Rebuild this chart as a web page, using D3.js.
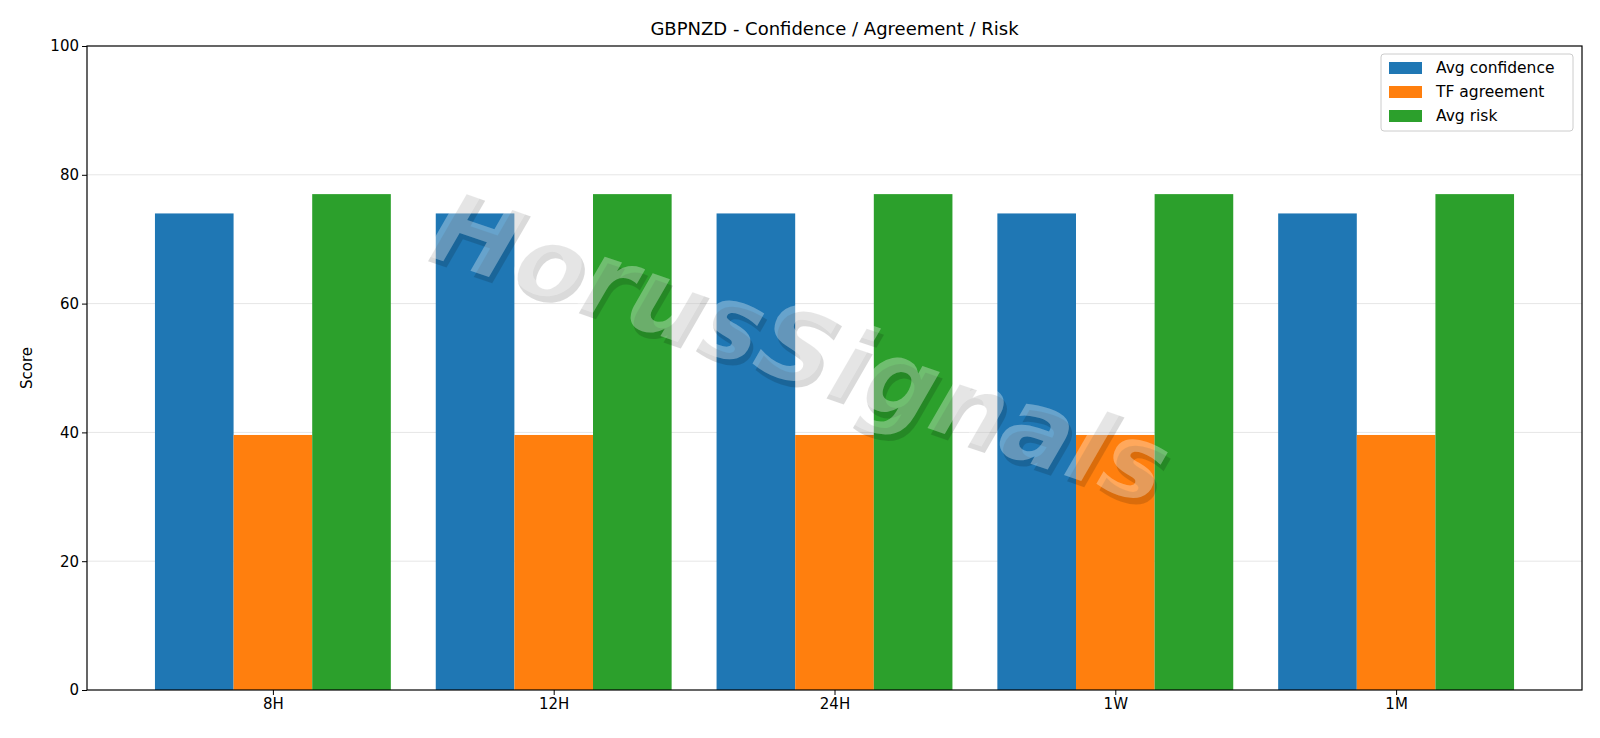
<!DOCTYPE html>
<html><head><meta charset="utf-8">
<script src="https://cdn.jsdelivr.net/npm/d3@7"></script>
<style>body{margin:0;background:#fff;font-family:"DejaVu Sans",sans-serif}</style>
</head><body><svg id="c" width="1600" height="738"></svg>
<script>
const categories=["8H","12H","24H","1W","1M"];
const seriesNames=["Avg confidence","TF agreement","Avg risk"];
const avgConfidence=[74,74,74,74,74];
const tfAgreement=[39.6,39.6,39.6,39.6,39.6];
const avgRisk=[77,77,77,77,77];
const yTicks=[0,20,40,60,80,100];
const colors=["#1f77b4","#ff7f0e","#2ca02c"];
const series=[avgConfidence,tfAgreement,avgRisk];

const svg=d3.select("#c");
const L=87,R=1582,T=46,B=690;
const x=d3.scaleLinear().domain([-0.662,4.662]).range([L,R]);
const y=d3.scaleLinear().domain([0,100]).range([B,T]);
const bw=0.28;
svg.append("g").selectAll("line").data(yTicks.slice(1,5)).join("line")
 .attr("x1",L).attr("x2",R).attr("y1",d=>y(d)).attr("y2",d=>y(d))
 .attr("stroke","#e6e6e6").attr("stroke-width",1);
series.forEach((s,k)=>{
 svg.append("g").selectAll("rect").data(s).join("rect")
  .attr("x",(d,i)=>x(i+(k-1.5)*bw)).attr("width",x(bw)-x(0))
  .attr("y",d=>y(d)).attr("height",d=>B-y(d)).attr("fill",colors[k]);
});
const wm=svg.append("g").attr("transform","translate(788,380) rotate(19)");
wm.append("text").attr("x",5).attr("y",5).attr("text-anchor","middle").attr("font-size",104)
 .attr("font-style","italic").attr("font-weight","bold").attr("fill","#000").attr("opacity",0.14).text("HorusSignals");
wm.append("text").attr("text-anchor","middle").attr("font-size",104)
 .attr("font-style","italic").attr("font-weight","bold").attr("fill","#ffffff").attr("opacity",0.32).text("HorusSignals");
svg.append("g").attr("transform",`translate(0,${B})`)
 .call(d3.axisBottom(x).tickValues(d3.range(5)).tickFormat(i=>categories[i]).tickSize(5).tickSizeOuter(0))
 .call(g=>g.select(".domain").remove());
svg.append("g").attr("transform",`translate(${L},0)`)
 .call(d3.axisLeft(y).tickValues(yTicks).tickSize(5))
 .call(g=>g.select(".domain").remove());
svg.selectAll(".tick text").attr("font-size",15).attr("font-family","DejaVu Sans").attr("fill","#000");
svg.selectAll(".tick line").attr("stroke","#000");
svg.append("rect").attr("x",L).attr("y",T).attr("width",R-L).attr("height",B-T).attr("fill","none").attr("stroke","#000").attr("stroke-width",1.2);
svg.append("text").attr("x",(L+R)/2).attr("y",35).attr("text-anchor","middle").attr("font-size",18).text("GBPNZD - Confidence / Agreement / Risk");
svg.append("text").attr("transform","translate(32,368) rotate(-90)").attr("text-anchor","middle").attr("font-size",15).text("Score");
const lg=svg.append("g").attr("transform","translate(1381,54)");
lg.append("rect").attr("width",192).attr("height",77).attr("rx",3).attr("fill","#fff").attr("fill-opacity",0.8).attr("stroke","#ccc");
seriesNames.forEach((n,i)=>{
 lg.append("rect").attr("x",8).attr("y",8+i*24).attr("width",33).attr("height",12).attr("fill",colors[i]);
 lg.append("text").attr("x",55).attr("y",19+i*24).attr("font-size",15.5).text(n);
});
</script></body></html>
